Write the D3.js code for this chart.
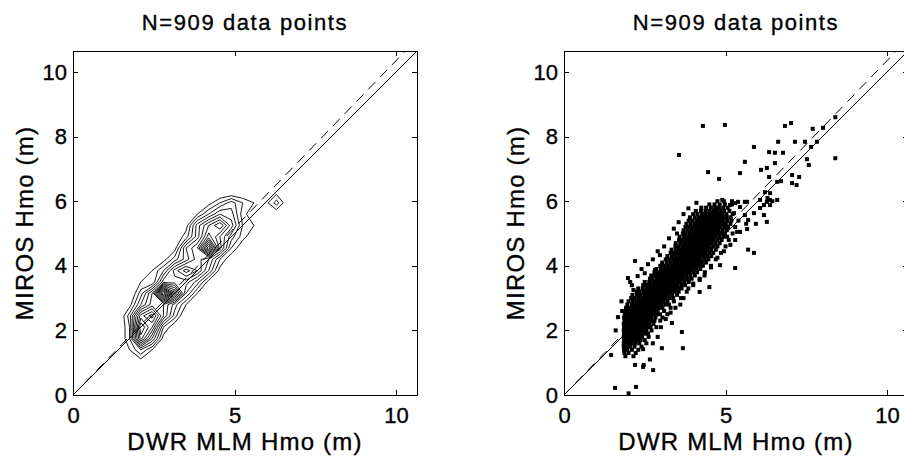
<!DOCTYPE html>
<html>
<head>
<meta charset="utf-8">
<script src="https://cdn.jsdelivr.net/npm/d3@7"></script>
<style>
  body { margin: 0; background: #fff; }
  svg { display: block; font-family: "Liberation Sans", Arial, Helvetica, sans-serif; }
</style>
</head>
<body>
<svg id="chart" width="904" height="459"></svg>
<script>
// axis ticks, both panels
var dwrTicks = [0, 5, 10];
var mirosTicks = [0, 2, 4, 6, 8, 10];
var axisMax = 10.65;

// dashed fit line (MIROS = slope * DWR + intercept)
var fitSlope = 1.035;
var fitIntercept = 0;

// dense part of the cloud: [MIROS, [DWR values...]]
var coreRows = [
  [1.2, [1.9, 2.15]],
  [1.3, [1.87, 2.0, 2.22]],
  [1.4, [1.86, 1.96, 2.1, 2.3]],
  [1.5, [1.85, 1.95, 2.04, 2.18, 2.4]],
  [1.6, [1.85, 1.93, 2.02, 2.1, 2.21, 2.33, 2.55]],
  [1.7, [1.86, 1.93, 2.0, 2.09, 2.16, 2.26, 2.37, 2.5]],
  [1.8, [1.85, 1.92, 1.98, 2.05, 2.11, 2.18, 2.25, 2.34, 2.42, 2.62]],
  [1.9, [1.86, 1.93, 2.0, 2.06, 2.13, 2.2, 2.26, 2.33, 2.41, 2.52, 2.6]],
  [2.0, [1.85, 1.92, 1.99, 2.05, 2.12, 2.18, 2.25, 2.31, 2.38, 2.46, 2.55, 2.71]],
  [2.1, [1.86, 1.94, 2.01, 2.08, 2.14, 2.21, 2.27, 2.34, 2.41, 2.49, 2.6, 2.68, 2.86]],
  [2.2, [1.85, 1.93, 2.0, 2.07, 2.14, 2.2, 2.27, 2.33, 2.4, 2.47, 2.55, 2.64, 2.77]],
  [2.3, [1.87, 1.95, 2.03, 2.1, 2.17, 2.24, 2.31, 2.38, 2.45, 2.52, 2.6, 2.72, 2.8, 2.98]],
  [2.4, [1.86, 1.95, 2.04, 2.12, 2.2, 2.27, 2.34, 2.41, 2.48, 2.55, 2.63, 2.7, 2.83, 3.05]],
  [2.5, [1.88, 1.98, 2.07, 2.16, 2.24, 2.31, 2.38, 2.45, 2.52, 2.59, 2.67, 2.76, 2.87, 2.97, 3.2]],
  [2.6, [1.9, 2.01, 2.11, 2.2, 2.28, 2.36, 2.43, 2.5, 2.57, 2.64, 2.72, 2.81, 2.9, 3.1]],
  [2.7, [1.92, 2.04, 2.15, 2.25, 2.33, 2.41, 2.48, 2.55, 2.62, 2.69, 2.77, 2.86, 2.96, 3.05, 3.3]],
  [2.8, [1.96, 2.1, 2.19, 2.29, 2.38, 2.46, 2.54, 2.61, 2.68, 2.75, 2.83, 2.92, 3.02, 3.14, 3.25]],
  [2.9, [2.0, 2.13, 2.25, 2.35, 2.44, 2.52, 2.6, 2.68, 2.75, 2.82, 2.9, 2.98, 3.08, 3.2, 3.4]],
  [3.0, [2.08, 2.19, 2.31, 2.42, 2.51, 2.6, 2.68, 2.75, 2.82, 2.89, 2.97, 3.05, 3.15, 3.27, 3.38, 3.62]],
  [3.1, [2.12, 2.26, 2.38, 2.49, 2.59, 2.68, 2.76, 2.83, 2.9, 2.97, 3.05, 3.13, 3.23, 3.35, 3.5]],
  [3.2, [2.25, 2.34, 2.46, 2.57, 2.67, 2.76, 2.84, 2.91, 2.98, 3.05, 3.13, 3.21, 3.31, 3.43, 3.55, 3.8]],
  [3.3, [2.3, 2.44, 2.56, 2.67, 2.77, 2.86, 2.94, 3.01, 3.08, 3.15, 3.23, 3.31, 3.41, 3.53, 3.64]],
  [3.4, [2.45, 2.54, 2.66, 2.77, 2.87, 2.96, 3.04, 3.11, 3.18, 3.25, 3.33, 3.41, 3.51, 3.63, 3.75, 4.0]],
  [3.5, [2.5, 2.64, 2.76, 2.87, 2.97, 3.06, 3.14, 3.21, 3.28, 3.35, 3.43, 3.51, 3.61, 3.73, 3.86]],
  [3.6, [2.66, 2.74, 2.86, 2.97, 3.07, 3.16, 3.24, 3.31, 3.38, 3.45, 3.53, 3.61, 3.71, 3.83, 3.95, 4.2]],
  [3.7, [2.7, 2.82, 2.94, 3.05, 3.15, 3.24, 3.32, 3.39, 3.46, 3.53, 3.61, 3.69, 3.79, 3.91, 4.05]],
  [3.8, [2.8, 2.91, 3.03, 3.14, 3.24, 3.33, 3.41, 3.48, 3.55, 3.62, 3.7, 3.78, 3.88, 4.0, 4.12, 4.36]],
  [3.9, [2.86, 3.0, 3.12, 3.23, 3.33, 3.42, 3.5, 3.57, 3.64, 3.71, 3.79, 3.87, 3.97, 4.09, 4.22]],
  [4.0, [2.98, 3.09, 3.21, 3.32, 3.42, 3.51, 3.59, 3.66, 3.73, 3.8, 3.88, 3.96, 4.06, 4.18, 4.3, 4.55]],
  [4.1, [3.04, 3.18, 3.3, 3.41, 3.51, 3.6, 3.68, 3.75, 3.82, 3.89, 3.97, 4.05, 4.15, 4.27, 4.4]],
  [4.2, [3.15, 3.26, 3.38, 3.49, 3.59, 3.68, 3.76, 3.83, 3.9, 3.97, 4.05, 4.13, 4.23, 4.35, 4.47, 4.7]],
  [4.3, [3.2, 3.34, 3.46, 3.57, 3.67, 3.76, 3.84, 3.91, 3.98, 4.05, 4.13, 4.21, 4.31, 4.43, 4.56]],
  [4.4, [3.3, 3.41, 3.53, 3.64, 3.74, 3.83, 3.91, 3.98, 4.05, 4.12, 4.2, 4.28, 4.38, 4.5, 4.62, 4.86]],
  [4.5, [3.33, 3.47, 3.59, 3.7, 3.8, 3.89, 3.97, 4.04, 4.11, 4.18, 4.26, 4.34, 4.44, 4.56, 4.7]],
  [4.6, [3.45, 3.54, 3.66, 3.77, 3.87, 3.96, 4.04, 4.11, 4.18, 4.25, 4.33, 4.41, 4.51, 4.63, 4.75, 5.0]],
  [4.7, [3.46, 3.6, 3.72, 3.83, 3.93, 4.02, 4.1, 4.17, 4.24, 4.31, 4.39, 4.47, 4.57, 4.69, 4.82]],
  [4.8, [3.56, 3.66, 3.78, 3.89, 3.99, 4.08, 4.16, 4.23, 4.3, 4.37, 4.45, 4.53, 4.63, 4.75, 4.88, 5.1]],
  [4.9, [3.58, 3.72, 3.84, 3.95, 4.05, 4.14, 4.22, 4.29, 4.36, 4.43, 4.51, 4.59, 4.69, 4.81, 4.94]],
  [5.0, [3.68, 3.77, 3.89, 4.0, 4.1, 4.19, 4.27, 4.34, 4.41, 4.48, 4.56, 4.64, 4.74, 4.86, 4.98, 5.22]],
  [5.1, [3.7, 3.82, 3.94, 4.05, 4.15, 4.24, 4.32, 4.39, 4.46, 4.53, 4.61, 4.69, 4.79, 4.91, 5.04]],
  [5.2, [3.76, 3.87, 3.99, 4.1, 4.2, 4.29, 4.37, 4.44, 4.51, 4.58, 4.66, 4.74, 4.84, 4.96, 5.08, 5.3]],
  [5.3, [3.79, 3.92, 4.04, 4.15, 4.25, 4.34, 4.42, 4.49, 4.56, 4.63, 4.71, 4.79, 4.89, 5.01, 5.15]],
  [5.4, [3.86, 3.98, 4.11, 4.22, 4.32, 4.41, 4.49, 4.56, 4.64, 4.72, 4.81, 4.92, 5.05, 5.18, 5.4]],
  [5.5, [3.9, 4.05, 4.18, 4.3, 4.4, 4.49, 4.57, 4.65, 4.73, 4.82, 4.92, 5.04, 5.16]],
  [5.6, [4.0, 4.13, 4.27, 4.39, 4.5, 4.6, 4.7, 4.8, 4.91, 5.03, 5.22]],
  [5.7, [4.08, 4.24, 4.38, 4.5, 4.62, 4.73, 4.84, 4.96, 5.12]],
  [5.8, [4.25, 4.4, 4.55, 4.68, 4.8, 4.93, 5.07]],
  [5.9, [4.5, 4.66, 4.82, 4.98, 5.2]],
  [6.0, [4.75, 4.95, 5.2]]
];

// extra overlapping points where the cloud is densest: [DWR, MIROS]
var lowPeak = [
  [2.12, 1.95], [2.2, 1.97], [2.28, 2.0], [2.36, 2.03], [2.15, 2.08], [2.23, 2.1], [2.31, 2.13], [2.4, 2.16],
  [2.18, 2.2], [2.26, 2.22], [2.34, 2.26], [2.42, 2.3], [2.2, 2.32], [2.3, 2.36], [2.38, 2.4]
];
var midPeak = [
  [2.78, 3.0], [2.85, 3.02], [2.92, 3.05], [2.99, 3.08], [2.8, 3.12], [2.87, 3.1], [2.95, 3.15], [3.02, 3.18],
  [2.83, 3.2], [2.9, 3.22], [2.97, 3.25], [3.05, 3.27], [2.76, 3.05], [2.88, 2.97], [3.0, 3.0], [2.93, 3.12],
  [2.81, 3.16], [3.07, 3.14], [2.86, 3.27], [2.95, 3.3], [2.72, 3.1], [3.1, 3.22]
];
var highPeak = [
  [4.08, 4.48], [4.16, 4.5], [4.24, 4.53], [4.32, 4.56], [4.12, 4.6], [4.2, 4.62], [4.28, 4.65], [4.36, 4.68],
  [4.15, 4.72], [4.23, 4.75], [4.31, 4.78], [4.4, 4.8], [4.2, 4.84], [4.28, 4.86], [4.38, 4.9], [4.45, 4.72],
  [4.1, 4.68], [4.26, 4.58]
];

// loose points just outside the core: [DWR, MIROS]
var nearEdge = [
  [2.05, 3.5], [2.28, 3.68], [2.15, 3.25], [2.4, 3.9], [2.6, 4.05], [2.75, 4.2], [2.9, 4.45], [3.1, 4.6],
  [3.25, 4.85], [3.4, 5.15], [3.55, 5.35], [3.7, 5.6], [3.85, 5.78], [4.1, 5.95], [1.78, 2.9], [1.8, 2.6],
  [3.0, 2.1], [3.15, 2.35], [3.3, 2.55], [3.45, 2.7], [3.7, 3.0], [3.85, 3.3], [4.0, 3.45], [4.35, 3.7],
  [4.55, 3.95], [4.75, 4.25], [4.95, 4.45], [5.15, 4.65], [5.3, 4.8], [5.45, 5.05], [2.75, 1.6], [2.9, 1.8]
];

// scattered points away from the core: [DWR, MIROS]
var outliers = [
  [1.58, 0.22], [2.23, 0.25], [2.0, 0.05], [1.46, 1.24], [2.2, 0.93], [2.47, 0.93], [2.76, 0.77], [2.66, 1.1],
  [2.45, 0.87], [3.03, 1.45], [2.45, 1.42], [3.68, 1.45], [3.65, 1.95], [3.34, 2.23], [3.6, 2.8], [2.2, 4.15],
  [1.98, 3.62], [2.1, 3.4], [2.5, 3.77], [1.67, 2.41], [1.6, 2.0], [2.82, 3.87], [2.97, 4.33], [3.5, 5.0],
  [4.2, 3.19], [4.2, 3.56], [4.5, 3.34], [4.83, 4.02], [5.3, 3.93], [5.7, 4.5], [5.88, 4.4], [5.67, 5.14],
  [5.36, 5.05], [5.05, 4.9], [5.7, 5.42], [5.14, 5.88], [5.3, 5.94], [5.45, 5.82], [5.67, 5.98], [5.39, 5.98],
  [5.6, 5.98], [4.9, 6.04], [5.26, 5.63], [5.6, 5.57], [5.64, 5.3], [5.94, 5.3], [5.88, 5.63], [6.19, 5.57],
  [6.28, 5.36], [6.07, 5.79], [6.38, 5.88], [6.07, 6.04], [6.28, 5.98], [6.38, 6.04], [6.6, 6.04], [6.22, 6.28],
  [6.19, 5.88], [6.3, 6.1], [6.45, 6.0],
  [6.38, 6.25], [6.6, 6.6], [6.72, 6.62], [4.46, 6.9], [4.8, 6.69], [5.45, 6.87], [5.6, 7.22], [5.88, 7.68],
  [6.1, 6.97], [6.28, 7.03], [6.35, 6.75], [6.53, 7.18], [6.35, 7.52], [6.53, 7.5], [6.78, 7.5], [6.63, 7.84],
  [6.84, 8.33], [7.03, 8.42], [7.15, 7.84], [7.46, 7.84], [7.65, 7.68], [7.7, 8.24], [7.83, 7.84], [7.52, 7.3],
  [7.58, 7.12], [8.02, 8.27], [8.4, 8.6], [8.4, 7.33], [7.06, 6.81], [7.28, 6.75], [7.06, 6.56], [7.2, 6.5],
  [3.56, 7.43], [4.3, 8.33], [4.98, 8.36]
];

var titleText = 'N=909 data points';
var xLabel = 'DWR MLM Hmo (m)';
var yLabel = 'MIROS Hmo (m)';
var binSize = 0.35;    // histogram bins centred on multiples of binSize
var nLevels = 15;
var lowestLevel = 3;   // counts per bin for the outermost contour

var points = coreRows
  .flatMap(function (r) { return r[1].map(function (v) { return [v, r[0]]; }); })
  .concat(lowPeak, midPeak, highPeak, nearEdge, outliers);

var W = 344, H = 344, TOP = 51;
var svg = d3.select('#chart');

var x = d3.scaleLinear().domain([0, axisMax]).range([0, W]);
var y = d3.scaleLinear().domain([0, axisMax]).range([H, 0]);

svg.append('defs').append('clipPath').attr('id', 'plotclip')
  .append('rect').attr('width', W).attr('height', H);

function styleAxis(g) {
  g.select('.domain').remove();
  g.selectAll('.tick line').attr('stroke', '#000').attr('shape-rendering', 'crispEdges');
  g.selectAll('.tick text').attr('fill', '#000').style('font-size', '22px')
    .style('font-family', '"Liberation Sans", Arial, sans-serif')
    .attr('stroke', '#000').attr('stroke-width', 0.35);
}

function drawFrame(g) {
  g.append('g').attr('transform', 'translate(0,' + H + ')')
    .call(d3.axisBottom(x).tickValues(dwrTicks).tickSizeInner(-5).tickSizeOuter(0).tickPadding(12).tickFormat(d3.format('d')))
    .call(styleAxis);
  g.append('g')
    .call(d3.axisLeft(y).tickValues(mirosTicks).tickSizeInner(-5).tickSizeOuter(0).tickPadding(6).tickFormat(d3.format('d')))
    .call(styleAxis);
  g.append('g')
    .call(d3.axisTop(x).tickValues(dwrTicks).tickSizeInner(-5).tickSizeOuter(0).tickFormat(''))
    .call(styleAxis);
  g.append('g').attr('transform', 'translate(' + W + ',0)')
    .call(d3.axisRight(y).tickValues(mirosTicks).tickSizeInner(-5).tickSizeOuter(0).tickFormat(''))
    .call(styleAxis);
  g.append('rect').attr('width', W).attr('height', H)
    .attr('fill', 'none').attr('stroke', '#000').attr('shape-rendering', 'crispEdges');

  var labels = g.append('g').attr('fill', '#000').attr('stroke', '#000').attr('stroke-width', 0.35);
  labels.append('text').attr('x', W / 2).attr('y', -21).attr('text-anchor', 'middle')
    .style('font-size', '22px').style('letter-spacing', '1.6px').text(titleText);
  labels.append('text').attr('x', W / 2).attr('y', H + 55).attr('text-anchor', 'middle')
    .style('font-size', '24px').style('letter-spacing', '1.2px').text(xLabel);
  labels.append('text').attr('transform', 'translate(-40,' + (H / 2) + ') rotate(-90)')
    .attr('text-anchor', 'middle')
    .style('font-size', '24px').style('letter-spacing', '1.2px').text(yLabel);
}

function drawLines(g) {
  var plot = g.append('g').attr('clip-path', 'url(#plotclip)');
  plot.append('line')
    .attr('x1', x(0)).attr('y1', y(0)).attr('x2', x(axisMax)).attr('y2', y(axisMax))
    .attr('stroke', '#000').attr('stroke-width', 1);
  plot.append('line')
    .attr('x1', x(0)).attr('y1', y(fitIntercept))
    .attr('x2', x(axisMax)).attr('y2', y(fitSlope * axisMax + fitIntercept))
    .attr('stroke', '#000').attr('stroke-width', 1).attr('stroke-dasharray', '10,7');
}

// left panel: contours of the 2-D histogram
var left = svg.append('g').attr('transform', 'translate(73,' + TOP + ')');
var n = Math.ceil(axisMax / binSize) + 1;
var counts = new Array(n * n).fill(0);
points.forEach(function (p) {
  var i = Math.floor(p[0] / binSize + 0.5), j = Math.floor(p[1] / binSize + 0.5);
  if (i >= 0 && i < n && j >= 0 && j < n) counts[i + j * n]++;
});
var maxCount = d3.max(counts);
var levels = d3.range(nLevels).map(function (k) {
  return lowestLevel + k * (maxCount - lowestLevel) / nLevels;
});
var rings = d3.contours().size([n, n]).thresholds(levels)(counts);
// grid sample i sits at contour coordinate i + 0.5, i.e. at value i * binSize
var proj = d3.geoTransform({
  point: function (px, py) { this.stream.point(x((px - 0.5) * binSize), y((py - 0.5) * binSize)); }
});
left.append('g').attr('clip-path', 'url(#plotclip)')
  .selectAll('path').data(rings).join('path')
  .attr('d', d3.geoPath(proj))
  .attr('fill', 'none').attr('stroke', '#000').attr('stroke-width', 0.9);
drawLines(left);
drawFrame(left);

// right panel: scatter
var right = svg.append('g').attr('transform', 'translate(564,' + TOP + ')');
right.append('g').attr('clip-path', 'url(#plotclip)')
  .selectAll('rect').data(points).join('rect')
  .attr('x', function (d) { return x(d[0]) - 2; })
  .attr('y', function (d) { return y(d[1]) - 2; })
  .attr('width', 4).attr('height', 4).attr('fill', '#000');
drawLines(right);
drawFrame(right);
</script>
</body>
</html>
